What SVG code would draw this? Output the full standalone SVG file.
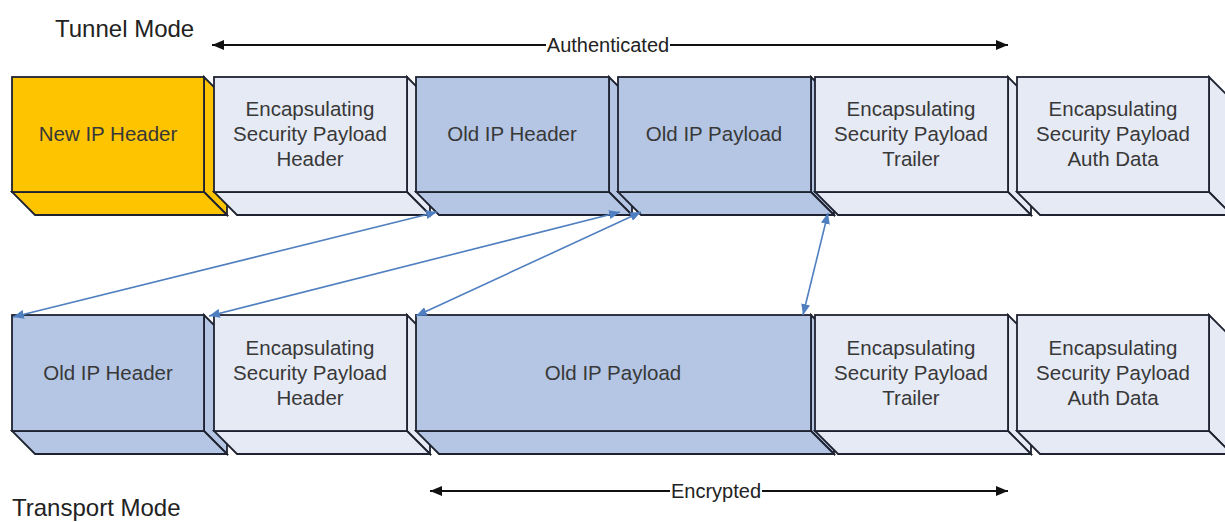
<svg xmlns="http://www.w3.org/2000/svg" width="1225" height="522" viewBox="0 0 1225 522">
  <defs>
    <style>
      .face { stroke: #1f2230; stroke-width: 1.8; stroke-linejoin: miter; }
      .gold { fill: #FFC400; }
      .pale { fill: #E6EAF5; }
      .blue { fill: #B4C6E4; }
      .lbl { font-family: "Liberation Sans", Arial, sans-serif; font-size: 20.5px; fill: #383838; text-anchor: middle; }
      .title { font-family: "Liberation Sans", Arial, sans-serif; font-size: 24px; fill: #222; }
      .span-lbl { font-family: "Liberation Sans", Arial, sans-serif; font-size: 20px; fill: #222; text-anchor: middle; }
      .span-line { stroke: #111; stroke-width: 2; fill: none; }
      .map { stroke: #4F7FC0; stroke-width: 1.6; fill: none; }
    </style>
    <marker id="blk" viewBox="0 0 12 10" refX="12" refY="5" markerWidth="12" markerHeight="10" markerUnits="userSpaceOnUse" orient="auto-start-reverse">
      <path d="M0,0 L12,5 L0,10 Z" fill="#111"/>
    </marker>
    <marker id="blu" viewBox="0 0 11 9" refX="11" refY="4.5" markerWidth="11" markerHeight="9" markerUnits="userSpaceOnUse" orient="auto-start-reverse">
      <path d="M0,0 L11,4.5 L0,9 Z" fill="#4F7FC0"/>
    </marker>
  </defs>

  <rect width="1225" height="522" fill="#fff"/>

  <!-- titles -->
  <text class="title" x="55" y="37">Tunnel Mode</text>
  <text class="title" x="12" y="516">Transport Mode</text>

  <!-- tunnel mode row -->
  <g id="t-new-ip-header">
    <polygon class="face gold" points="204,77 227,100 227,215 204,192"/>
    <polygon class="face gold" points="12,192 204,192 227,215 35,215"/>
    <rect class="face gold" x="12" y="77" width="192" height="115"/>
    <text class="lbl" x="108" y="141">New IP Header</text>
  </g>
  <g id="t-esp-header">
    <polygon class="face pale" points="407,77 430,100 430,215 407,192"/>
    <polygon class="face pale" points="214,192 407,192 430,215 237,215"/>
    <rect class="face pale" x="214" y="77" width="193" height="115"/>
    <text class="lbl" x="310" y="116">Encapsulating</text>
    <text class="lbl" x="310" y="141">Security Payload</text>
    <text class="lbl" x="310" y="166">Header</text>
  </g>
  <g id="t-old-ip-header">
    <polygon class="face blue" points="609,77 632,100 632,215 609,192"/>
    <polygon class="face blue" points="416,192 609,192 632,215 439,215"/>
    <rect class="face blue" x="416" y="77" width="193" height="115"/>
    <text class="lbl" x="512" y="141">Old IP Header</text>
  </g>
  <g id="t-old-ip-payload">
    <polygon class="face blue" points="811,77 834,100 834,215 811,192"/>
    <polygon class="face blue" points="618,192 811,192 834,215 641,215"/>
    <rect class="face blue" x="618" y="77" width="193" height="115"/>
    <text class="lbl" x="714" y="141">Old IP Payload</text>
  </g>
  <g id="t-esp-trailer">
    <polygon class="face pale" points="1008,77 1031,100 1031,215 1008,192"/>
    <polygon class="face pale" points="815,192 1008,192 1031,215 838,215"/>
    <rect class="face pale" x="815" y="77" width="193" height="115"/>
    <text class="lbl" x="911" y="116">Encapsulating</text>
    <text class="lbl" x="911" y="141">Security Payload</text>
    <text class="lbl" x="911" y="166">Trailer</text>
  </g>
  <g id="t-esp-auth">
    <polygon class="face pale" points="1209,77 1232,100 1232,215 1209,192"/>
    <polygon class="face pale" points="1017,192 1209,192 1232,215 1040,215"/>
    <rect class="face pale" x="1017" y="77" width="192" height="115"/>
    <text class="lbl" x="1113" y="116">Encapsulating</text>
    <text class="lbl" x="1113" y="141">Security Payload</text>
    <text class="lbl" x="1113" y="166">Auth Data</text>
  </g>

  <!-- transport mode row -->
  <g id="b-old-ip-header">
    <polygon class="face blue" points="204,315 227,338 227,454 204,431"/>
    <polygon class="face blue" points="12,431 204,431 227,454 35,454"/>
    <rect class="face blue" x="12" y="315" width="192" height="116"/>
    <text class="lbl" x="108" y="380">Old IP Header</text>
  </g>
  <g id="b-esp-header">
    <polygon class="face pale" points="407,315 430,338 430,454 407,431"/>
    <polygon class="face pale" points="214,431 407,431 430,454 237,454"/>
    <rect class="face pale" x="214" y="315" width="193" height="116"/>
    <text class="lbl" x="310" y="355">Encapsulating</text>
    <text class="lbl" x="310" y="380">Security Payload</text>
    <text class="lbl" x="310" y="405">Header</text>
  </g>
  <g id="b-old-ip-payload">
    <polygon class="face blue" points="811,315 834,338 834,454 811,431"/>
    <polygon class="face blue" points="416,431 811,431 834,454 439,454"/>
    <rect class="face blue" x="416" y="315" width="395" height="116"/>
    <text class="lbl" x="613" y="380">Old IP Payload</text>
  </g>
  <g id="b-esp-trailer">
    <polygon class="face pale" points="1008,315 1031,338 1031,454 1008,431"/>
    <polygon class="face pale" points="815,431 1008,431 1031,454 838,454"/>
    <rect class="face pale" x="815" y="315" width="193" height="116"/>
    <text class="lbl" x="911" y="355">Encapsulating</text>
    <text class="lbl" x="911" y="380">Security Payload</text>
    <text class="lbl" x="911" y="405">Trailer</text>
  </g>
  <g id="b-esp-auth">
    <polygon class="face pale" points="1209,315 1232,338 1232,454 1209,431"/>
    <polygon class="face pale" points="1017,431 1209,431 1232,454 1040,454"/>
    <rect class="face pale" x="1017" y="315" width="192" height="116"/>
    <text class="lbl" x="1113" y="355">Encapsulating</text>
    <text class="lbl" x="1113" y="380">Security Payload</text>
    <text class="lbl" x="1113" y="405">Auth Data</text>
  </g>

  <!-- connectors -->
  <g id="connectors">
    <!-- authenticated span -->
    <line class="span-line" x1="212" y1="45" x2="546" y2="45" marker-start="url(#blk)"/>
    <line class="span-line" x1="670" y1="45" x2="1008" y2="45" marker-end="url(#blk)"/>
    <text class="span-lbl" x="608" y="52">Authenticated</text>
    <!-- encrypted span -->
    <line class="span-line" x1="430" y1="491" x2="670" y2="491" marker-start="url(#blk)"/>
    <line class="span-line" x1="762" y1="491" x2="1008" y2="491" marker-end="url(#blk)"/>
    <text class="span-lbl" x="716" y="498">Encrypted</text>
    <!-- field mappings between the two layouts -->
    <line class="map" x1="437" y1="212" x2="13" y2="317" marker-start="url(#blu)" marker-end="url(#blu)"/>
    <line class="map" x1="620" y1="212" x2="209" y2="316" marker-start="url(#blu)" marker-end="url(#blu)"/>
    <line class="map" x1="641" y1="212" x2="416" y2="316" marker-start="url(#blu)" marker-end="url(#blu)"/>
    <line class="map" x1="828" y1="213" x2="803" y2="315" marker-start="url(#blu)" marker-end="url(#blu)"/>
  </g>
</svg>
